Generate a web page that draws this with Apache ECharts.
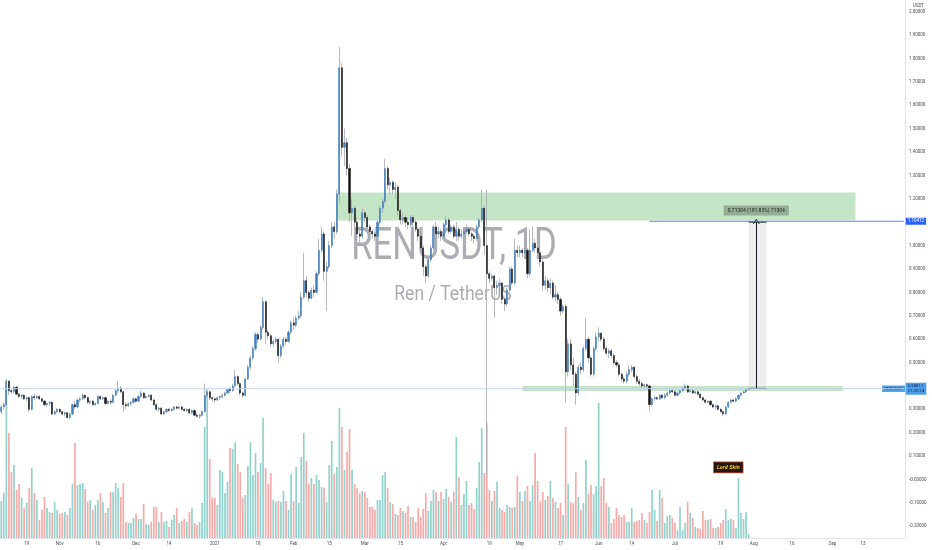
<!DOCTYPE html>
<html><head><meta charset="utf-8">
<script src="https://cdn.jsdelivr.net/npm/echarts@6/dist/echarts.min.js"></script>
<style>html,body{margin:0;padding:0;background:#fff}#c{width:932px;height:550px}</style>
</head><body><div id="c"></div>
<script>
// ---- data ----
const firstDay = '2020-10-09';
const dayCount = 356;
const tickLabels = [
 ['2020-10-19','19'],['2020-11-01','Nov'],['2020-11-16','16'],['2020-12-01','Dec'],['2020-12-14','14'],
 ['2021-01-01','2021'],['2021-01-18','18'],['2021-02-01','Feb'],['2021-02-15','15'],['2021-03-01','Mar'],
 ['2021-03-15','15'],['2021-04-01','Apr'],['2021-04-19','19'],['2021-05-01','May'],['2021-05-17','17'],
 ['2021-06-01','Jun'],['2021-06-14','14'],['2021-07-01','Jul'],['2021-07-19','19'],['2021-08-01','Aug'],
 ['2021-08-16','16'],['2021-09-01','Sep'],['2021-09-13','13']
];
// [open, close, low, high]
const candles = [
[.29,.31,.28,.32],[.31,.32,.30,.33],[.32,.42,.31,.43],[.42,.38,.36,.425],[.38,.375,.365,.39],
[.375,.395,.37,.40],[.395,.365,.36,.40],[.365,.355,.35,.37],[.355,.36,.345,.365],[.36,.345,.34,.365],
[.345,.35,.335,.355],[.35,.30,.29,.355],[.30,.355,.295,.36],[.355,.35,.34,.365],[.35,.355,.345,.36],
[.355,.345,.34,.36],[.345,.335,.33,.35],[.335,.32,.315,.34],[.32,.325,.31,.33],[.325,.33,.315,.335],
[.33,.28,.275,.335],[.28,.29,.275,.295],[.29,.30,.285,.305],[.30,.29,.285,.305],[.29,.28,.275,.295],
[.28,.285,.27,.29],[.285,.265,.26,.29],[.265,.28,.26,.285],[.28,.32,.275,.325],[.32,.31,.30,.335],
[.31,.34,.305,.345],[.34,.345,.33,.35],[.345,.36,.34,.37],[.36,.35,.345,.365],[.35,.33,.325,.355],
[.33,.335,.32,.34],[.335,.32,.315,.34],[.32,.325,.315,.33],[.325,.355,.32,.36],[.355,.345,.34,.36],
[.345,.35,.34,.355],[.35,.325,.32,.355],[.325,.335,.32,.34],[.335,.33,.32,.345],[.33,.36,.325,.365],
[.36,.38,.355,.385],[.38,.39,.37,.42],[.39,.375,.37,.40],[.375,.32,.29,.38],[.32,.315,.30,.33],
[.315,.325,.31,.33],[.325,.33,.315,.335],[.33,.345,.325,.35],[.345,.335,.33,.35],[.335,.355,.33,.36],
[.355,.37,.35,.38],[.37,.35,.345,.375],[.35,.355,.345,.36],[.355,.36,.35,.365],[.36,.34,.335,.365],
[.34,.32,.315,.345],[.32,.30,.295,.325],[.30,.305,.29,.31],[.305,.28,.275,.31],[.28,.29,.275,.295],
[.29,.30,.285,.305],[.30,.295,.29,.305],[.295,.30,.29,.305],[.30,.31,.295,.315],[.31,.305,.30,.315],
[.305,.31,.30,.315],[.31,.30,.295,.315],[.30,.295,.29,.305],[.295,.30,.29,.305],[.30,.285,.28,.305],
[.285,.295,.28,.30],[.295,.275,.27,.30],[.275,.27,.265,.285],[.27,.275,.26,.28],[.275,.29,.27,.295],
[.29,.36,.285,.41],[.36,.375,.35,.39],[.375,.35,.34,.38],[.35,.345,.335,.355],[.345,.34,.33,.35],
[.34,.35,.335,.355],[.35,.355,.34,.36],[.355,.36,.345,.37],[.36,.37,.355,.375],[.37,.385,.365,.39],
[.385,.38,.37,.395],[.38,.40,.375,.41],[.40,.44,.395,.47],[.44,.41,.40,.445],[.41,.37,.36,.415],
[.37,.36,.35,.375],[.36,.43,.355,.435],[.43,.48,.425,.49],[.48,.52,.47,.53],[.52,.56,.51,.57],
[.56,.62,.55,.63],[.62,.60,.585,.63],[.60,.65,.595,.66],[.65,.76,.64,.78],[.76,.63,.58,.765],
[.63,.615,.60,.64],[.615,.58,.565,.625],[.58,.59,.57,.60],[.59,.60,.58,.61],[.60,.53,.50,.605],
[.53,.57,.52,.58],[.57,.60,.56,.61],[.60,.59,.575,.61],[.59,.63,.585,.64],[.63,.67,.62,.68],
[.67,.66,.64,.69],[.66,.69,.65,.70],[.69,.70,.68,.72],[.70,.78,.69,.80],[.78,.85,.77,.97],
[.85,.80,.78,.87],[.80,.775,.76,.81],[.775,.81,.77,.82],[.81,.80,.78,.83],[.80,.88,.795,.89],
[.88,.98,.87,1.03],[.98,1.05,.97,1.08],[1.05,.89,.85,1.06],[.89,.91,.72,.93],[.91,1.00,.90,1.02],
[1.00,1.08,.99,1.10],[1.08,1.06,1.03,1.10],[1.06,1.22,1.05,1.24],[1.22,1.76,1.18,1.85],[1.76,1.42,1.38,1.78],
[1.42,1.44,1.34,1.50],[1.44,1.33,1.30,1.46],[1.33,1.14,1.10,1.35],[1.14,1.16,1.04,1.20],[1.16,1.10,1.08,1.17],
[1.10,1.05,1.03,1.12],[1.05,1.04,1.01,1.08],[1.04,1.14,1.03,1.16],[1.14,1.12,1.10,1.15],[1.12,1.08,1.07,1.13],
[1.08,1.06,1.04,1.09],[1.06,1.05,1.03,1.07],[1.05,1.04,1.02,1.06],[1.04,1.10,1.03,1.11],[1.10,1.16,1.09,1.17],
[1.16,1.19,1.14,1.20],[1.19,1.33,1.18,1.37],[1.33,1.26,1.24,1.34],[1.26,1.27,1.22,1.29],[1.27,1.24,1.22,1.28],
[1.24,1.25,1.20,1.27],[1.25,1.15,1.13,1.26],[1.15,1.11,1.09,1.16],[1.11,1.12,1.09,1.14],[1.12,1.10,1.08,1.13],
[1.10,1.09,1.07,1.12],[1.09,1.12,1.08,1.13],[1.12,1.10,1.08,1.13],[1.10,1.07,1.06,1.11],[1.07,1.04,1.02,1.08],
[1.04,.99,.97,1.05],[.99,.91,.87,1.00],[.91,.87,.84,.92],[.87,.94,.86,.95],[.94,.99,.93,1.00],
[.99,1.08,.98,1.09],[1.08,1.05,1.03,1.10],[1.05,1.06,1.03,1.08],[1.06,1.04,1.02,1.07],[1.04,1.09,1.03,1.10],
[1.09,1.11,1.07,1.13],[1.11,1.06,1.05,1.12],[1.06,1.08,1.05,1.09],[1.08,1.04,1.03,1.09],[1.04,1.07,1.02,1.10],
[1.07,1.04,1.02,1.08],[1.04,1.05,1.03,1.07],[1.05,1.06,1.04,1.08],[1.06,1.07,1.05,1.09],[1.07,1.05,1.04,1.08],
[1.05,1.04,1.02,1.06],[1.04,1.03,1.01,1.05],[1.03,1.08,1.02,1.09],[1.08,1.11,1.07,1.12],[1.11,1.16,1.10,1.24],
[1.16,1.00,.96,1.17],[1.00,.88,.02,1.24],[.88,.86,.84,.89],[.86,.87,.85,.88],[.87,.82,.69,.875],
[.82,.83,.79,.85],[.83,.84,.80,.86],[.84,.77,.75,.845],[.77,.75,.72,.78],[.75,.81,.74,.82],
[.81,.90,.80,.91],[.90,.84,.83,.91],[.84,.98,.83,1.03],[.98,.97,.95,1.00],[.97,.98,.95,1.00],
[.98,.97,.95,.99],[.97,.98,.96,1.00],[.98,.88,.86,.99],[.88,.98,.87,1.07],[.98,1.01,.97,1.08],
[1.01,.99,.97,1.03],[.99,.97,.95,1.00],[.97,.93,.91,.98],[.93,.83,.81,.94],[.83,.85,.81,.87],
[.85,.82,.80,.86],[.82,.84,.79,.86],[.84,.78,.77,.85],[.78,.79,.76,.83],[.79,.77,.75,.80],
[.77,.72,.70,.78],[.72,.74,.71,.75],[.74,.46,.33,.75],[.46,.58,.44,.60],[.58,.49,.47,.60],
[.49,.45,.40,.52],[.45,.37,.32,.46],[.37,.48,.36,.49],[.48,.47,.45,.50],[.47,.56,.46,.57],
[.56,.60,.55,.69],[.60,.52,.50,.61],[.52,.45,.44,.53],[.45,.56,.44,.57],[.56,.61,.55,.63],
[.61,.625,.59,.65],[.625,.60,.59,.63],[.60,.56,.55,.61],[.56,.54,.53,.57],[.54,.55,.52,.56],
[.55,.53,.52,.56],[.53,.50,.49,.54],[.50,.49,.48,.51],[.49,.45,.44,.50],[.45,.43,.42,.46],
[.43,.42,.41,.44],[.42,.45,.41,.46],[.45,.47,.44,.49],[.47,.48,.46,.49],[.48,.44,.43,.485],
[.44,.42,.41,.45],[.42,.41,.40,.43],[.41,.40,.39,.42],[.40,.405,.39,.41],[.405,.40,.39,.41],
[.40,.32,.29,.405],[.32,.345,.31,.35],[.345,.35,.335,.36],[.35,.345,.34,.355],[.345,.36,.34,.365],
[.36,.35,.345,.365],[.35,.36,.345,.37],[.36,.37,.355,.375],[.37,.38,.365,.385],[.38,.375,.37,.385],
[.375,.36,.355,.38],[.36,.37,.355,.375],[.37,.38,.365,.385],[.38,.39,.375,.395],[.39,.40,.385,.41],
[.40,.375,.37,.405],[.375,.38,.37,.385],[.38,.37,.365,.385],[.37,.375,.365,.38],[.375,.365,.36,.38],
[.365,.35,.345,.37],[.35,.34,.335,.355],[.34,.33,.325,.345],[.33,.335,.325,.34],[.335,.32,.315,.34],
[.32,.31,.305,.325],[.31,.315,.30,.32],[.315,.30,.295,.32],[.30,.29,.285,.305],[.29,.28,.27,.295],
[.28,.31,.275,.315],[.31,.33,.305,.335],[.33,.34,.325,.345],[.34,.335,.33,.345],[.335,.345,.33,.35],
[.345,.36,.34,.365],[.36,.37,.355,.375],[.37,.375,.365,.38],[.375,.385,.37,.39],[.385,.38811,.38,.392]
];
const volumes = [
37,45,150,105,66,73,48,54,40,30, 35,50,70,45,38,18,28,41,30,26, 25,36,28,24,25,26,23,30,54,95,
53,54,55,49,36,38,28,33,38,45, 36,25,30,46,46,55,50,41,55,16, 15,15,20,24,19,19,34,14,13,16,
31,31,16,26,16,17,11,18,23,30, 15,17,19,16,26,30,15,13,16,35, 111,148,79,40,40,33,68,66,45,56,
90,89,96,74,66,40,43,72,96,63, 85,66,75,120,70,54,65,38,36,37, 36,47,37,28,64,37,71,35,81,105,
77,54,60,54,63,58,51,50,36,73, 97,64,71,130,111,68,86,109,68,54, 50,45,47,46,40,31,31,28,38,
38,63,66,50,36,34,24,23,30,27, 25,32,21,21,16,30,21,29,45,27, 37,48,46,37,46,39,49,41,36,46,
101,61,33,44,57,33,35,29,50,76, 110,65,115,48,37,47,56,
30,28,26,33,31,30,31,62,46,37, 47,52,37,53,85,57,36,46,38,42, 57,40,36,30,35,23,111,54,36,35,
66,41,28,35,78,44,53,44,52,135, 52,60,35,31,15,19,30,23,21,23, 16,16,30,16,17,18,25,18,15,26,
48,28,17,48,40,15,22,23,20,15, 8,31,8,15,36,25,20,11,10,9, 27,18,18,19,10,10,11,15,18,29,
18,19,18,10,60,25,19,26,4
];
const lastPrice = 0.38811;
const targetPrice = 1.10412;
const measureBase = 0.39108;
const measureText = '0.71304 (181.83%) 71304';
const upperZone = {from: 132, to: 336, top: 1.227, bottom: 1.107};
const lowerZone = {from: 205, to: 331, top: 0.400, bottom: 0.378};
const measureSpan = {from: 294, to: 301, arrow: 297};
const targetLineFrom = 255;
const tagLabel = {text: 'Lord Skin', at: 286, price: 0.052};

// ---- build ----
const cats = [];
const d0 = new Date(firstDay + 'T00:00:00Z');
for (let i = 0; i < dayCount; i++) {
  const d = new Date(d0.getTime() + i * 86400000);
  cats.push(d.toISOString().slice(0, 10));
}
const tickMap = Object.fromEntries(tickLabels);
const UP = '#3f7fc0', DOWN = '#151515';
const bodies = candles.map(c => [c[0], c[1], Math.min(c[0], c[1]), Math.max(c[0], c[1])]);
const volData = volumes.slice(0, candles.length).map((v, i) => ({
  value: v,
  itemStyle: {color: candles[i][1] >= candles[i][0] ? 'rgba(38,166,154,0.5)' : 'rgba(239,83,80,0.5)'}
}));
const last = cats.length - 1;
const axisFont = {fontSize: 4.5, color: '#4a4e5a', fontFamily: 'Roboto'};

function seg(x1, y1, x2, y2, style, extra) {
  const a = Object.assign({coord: [x1, y1], lineStyle: style, label: {show: false}}, extra || {});
  const b = {coord: [x2, y2], lineStyle: style};
  return [a, b];
}
function hline(name, fromIdx, value, color, labelText, labelStyle, z) {
  return {type: 'line', name: name, xAxisIndex: 0, yAxisIndex: 0, z: z, silent: true,
    data: [[cats[fromIdx], value], [cats[last], value]], symbol: 'none', showSymbol: false,
    lineStyle: {color: color, width: 1}, itemStyle: {color: color},
    endLabel: Object.assign({show: true, formatter: labelText, distance: 2, fontFamily: 'Roboto'}, labelStyle)};
}

const arrowSeg = seg(cats[measureSpan.arrow], measureBase, cats[measureSpan.arrow], targetPrice, {color: '#131722', width: 1, type: 'solid'}, {symbol: 'none'});
arrowSeg[1].symbol = 'path://M0,10 L5,0 L10,10 L8.4,10 L5,3.2 L1.6,10 Z';
arrowSeg[1].symbolSize = [7, 5];

const chart = echarts.init(document.getElementById('c'));
chart.setOption({
  animation: false,
  backgroundColor: '#ffffff',
  grid: [
    {left: 0, right: 27, top: 0, bottom: 12},
    {left: 0, right: 27, top: 11.7, bottom: 23.7}
  ],
  xAxis: [
    {type: 'category', gridIndex: 0, data: cats, boundaryGap: true,
     axisLine: {onZero: false, lineStyle: {color: '#e0e3eb'}}, axisTick: {show: false}, splitLine: {show: false},
     axisLabel: Object.assign({interval: (i, v) => v in tickMap, formatter: v => tickMap[v] || '', margin: 3}, axisFont)},
    {type: 'category', gridIndex: 1, data: cats, show: false, axisLine: {onZero: false, show: false}}
  ],
  yAxis: [
    {type: 'value', gridIndex: 0, min: -0.25, max: 2.05, position: 'right',
     axisLine: {show: true, onZero: false, lineStyle: {color: '#e0e3eb'}}, axisTick: {show: false},
     axisLabel: {show: false}, splitLine: {show: false}},
    {type: 'value', gridIndex: 0, min: 0, max: 538, show: false, splitLine: {show: false}},
    {type: 'value', gridIndex: 1, min: -0.2, max: 2.0, interval: 0.1, position: 'right',
     axisLine: {show: false, onZero: false}, axisTick: {show: false}, splitLine: {show: false},
     axisLabel: Object.assign({margin: 4, formatter: v => Math.abs(v) < 1e-9 ? '-0.00000' : v.toFixed(5)}, axisFont)}
  ],
  graphic: [
    {type: 'text', x: 454, y: 248, scaleX: 0.77, z: 0, silent: true,
     style: {text: 'RENUSDT, 1D', font: '45px Roboto', fill: 'rgba(120,123,134,0.62)', textAlign: 'center', textVerticalAlign: 'middle'}},
    {type: 'text', x: 453, y: 295, scaleX: 0.88, z: 0, silent: true,
     style: {text: 'Ren / TetherUS', font: '20px Roboto', fill: 'rgba(120,123,134,0.62)', textAlign: 'center', textVerticalAlign: 'middle'}},
    {type: 'text', right: 7, top: 2, z: 100, silent: true,
     style: {text: 'USDT', font: '4.5px Roboto', fill: '#4a4e5a', backgroundColor: '#fff', padding: [1, 1]}}
  ],
  series: [
    {type: 'line', name: 'zones', xAxisIndex: 0, yAxisIndex: 0, data: [], z: 1, silent: true,
     markArea: {silent: true, data: [
       [{coord: [cats[upperZone.from], upperZone.top], itemStyle: {color: 'rgba(76,175,80,0.32)'}}, {coord: [cats[upperZone.to], upperZone.bottom]}],
       [{coord: [cats[lowerZone.from], lowerZone.top], itemStyle: {color: 'rgba(76,175,80,0.32)'}}, {coord: [cats[lowerZone.to], lowerZone.bottom]}],
       [{coord: [cats[measureSpan.from], targetPrice], itemStyle: {color: 'rgba(120,123,134,0.13)'}}, {coord: [cats[measureSpan.to], measureBase]}]
     ]}},
    {type: 'bar', name: 'Volume', xAxisIndex: 0, yAxisIndex: 1, data: volData, barWidth: 1.7, z: 2, silent: true},
    {type: 'candlestick', name: 'wick', xAxisIndex: 0, yAxisIndex: 0, data: candles, barWidth: 0.8, z: 3, silent: true,
     itemStyle: {color: '#a4a7ae', color0: '#a4a7ae', borderColor: '#a4a7ae', borderColor0: '#a4a7ae', borderWidth: 0.8}},
    {type: 'candlestick', name: 'RENUSDT', xAxisIndex: 0, yAxisIndex: 0, data: bodies, barWidth: 1.6, z: 4, silent: true,
     itemStyle: {color: UP, color0: DOWN, borderColor: UP, borderColor0: DOWN, borderWidth: 0.5}},
    hline('priceLine', 0, lastPrice, '#c6d5ec', '0.38811\n21:30:14',
      {fontSize: 4.3, lineHeight: 5, color: '#0c2a52', backgroundColor: '#4d9de8', padding: [1, 2]}, 5),
    hline('target', targetLineFrom, targetPrice, '#5b86e8', '1.10412',
      {fontSize: 4.5, color: '#ffffff', backgroundColor: '#2962ff', padding: [1, 2]}, 10),
    {type: 'line', name: 'measure', xAxisIndex: 0, yAxisIndex: 0, data: [], z: 11, silent: true,
     markLine: {silent: true, symbol: ['none', 'none'], animation: false, lineStyle: {color: '#131722', width: 1, type: 'solid'},
       data: [
         seg(cats[measureSpan.from], measureBase, cats[measureSpan.to], measureBase, {color: '#131722', width: 1, type: 'solid'}),
         seg(cats[measureSpan.from], targetPrice, cats[measureSpan.to], targetPrice, {color: '#3f4f40', width: 1.6, type: 'solid'}),
         arrowSeg
       ]},
     markPoint: {silent: true, animation: false, data: [
       {coord: [cats[measureSpan.arrow], 1.15], symbol: 'rect', symbolSize: 0,
        label: {show: true, position: 'inside', formatter: measureText, fontSize: 5, color: '#1f2a1f',
                backgroundColor: '#95ac96', padding: [2.5, 4], fontFamily: 'Roboto'}},
       {coord: [cats[tagLabel.at], tagLabel.price], symbol: 'rect', symbolSize: 0,
        label: {show: true, position: 'inside', formatter: tagLabel.text, fontSize: 5.5, fontStyle: 'italic', fontWeight: 'bold',
                color: '#f2c230', backgroundColor: '#24170f', borderColor: '#c8452c', borderWidth: 0.8, padding: [2, 3], fontFamily: 'Roboto'}},
       {coord: [cats[351], lastPrice], symbol: 'rect', symbolSize: 0,
        label: {show: true, position: 'inside', formatter: 'RENUSDT', fontSize: 4.3, color: '#0c2a52',
                backgroundColor: '#4d9de8', padding: [1.2, 2], fontFamily: 'Roboto'}}
     ]}},
    {type: 'line', name: 'axisHolder', xAxisIndex: 1, yAxisIndex: 2, data: [], silent: true}
  ]
});
</script>
</body></html>
